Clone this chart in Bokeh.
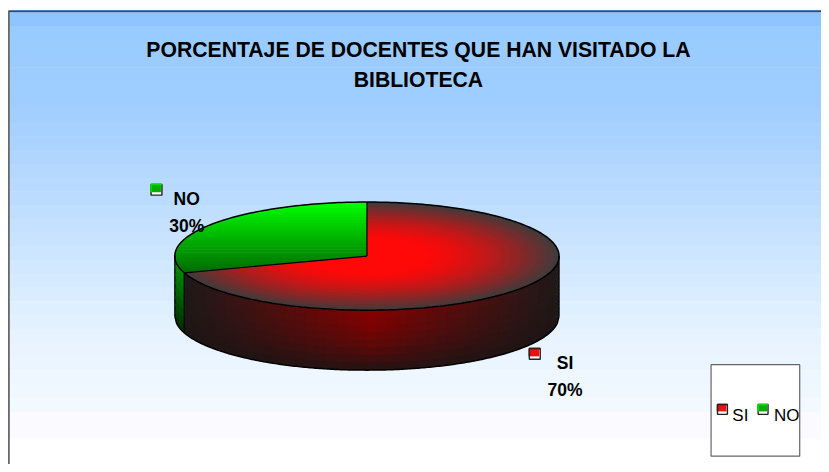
import numpy as np
from bokeh.plotting import figure
from bokeh.embed import file_html
from bokeh.resources import INLINE
from bokeh.core.properties import value

TITLE_LINES = ["PORCENTAJE DE DOCENTES QUE HAN VISITADO LA", "BIBLIOTECA"]
CATEGORIES = ["SI", "NO"]
VALUES = [70, 30]

# layout
W, H = 821, 464
CX, CY, RX, RY, DEPTH = 370.0, 260.0, 194.0, 55.0, 61.0
FONT = value("Liberation Sans")

p = figure(width=W, height=H, x_range=(0, 829), y_range=(472, 0),
           output_backend="svg", toolbar_location=None, min_border=0,
           outline_line_color=None, background_fill_color="white",
           border_fill_color="white")
p.axis.visible = False
p.grid.visible = False


def hexc(rgb):
    r, g, b = [int(round(max(0, min(255, c)))) for c in rgb]
    return f"#{r:02x}{g:02x}{b:02x}"


def mix(a, b, t):
    return [a[i] + (b[i] - a[i]) * t for i in range(3)]


# background bands
bg_stops = [(12, (144, 196, 255)), (27, (153, 204, 255)), (100, (160, 205, 255)),
            (180, (184, 218, 255)), (260, (208, 231, 255)), (330, (230, 243, 255)),
            (408, (243, 249, 255)), (409, (250, 250, 255)), (446, (252, 250, 255))]
ys = np.arange(12, 446, 14)
ys = np.append(ys, 446)
sy = [s[0] for s in bg_stops]
for y0, y1 in zip(ys[:-1], ys[1:]):
    c = [np.interp(y0, sy, [s[1][i] for s in bg_stops]) for i in range(3)]
    p.quad(left=9, right=829, top=y0, bottom=y1 + 0.5, fill_color=hexc(c), line_color=None)
p.segment(x0=[8], y0=[11], x1=[829], y1=[11], line_color="#1f4f8c", line_width=2)
p.segment(x0=[8.5], y0=[11], x1=[8.5], y1=[472], line_color="#555555", line_width=1.6)

# sector geometry, angle measured counter-clockwise on screen from 12 o'clock
total = sum(VALUES)
no_ang = 2 * np.pi * VALUES[CATEGORIES.index("NO")] / total


def ell(a, s=1.0):
    return CX - RX * s * np.sin(a), CY - RY * s * np.cos(a)


def rim(x):
    u = np.clip((x - CX) / RX, -1, 1)
    return CY + RY * np.sqrt(1 - u * u)


# side wall of the red slice, painted strip by strip with a small overlap
xs_edge = np.linspace(ell(no_ang)[0], CX + RX, 38)
rows = np.linspace(0, 1, 9)
for x0, x1 in zip(xs_edge[:-1], xs_edge[1:]):
    u = abs((x0 + x1) / 2 - CX - 5) / RX
    base = mix((135, 0, 0), (28, 26, 26), min(1, u ** 0.9))
    for f0, f1 in zip(rows[:-1], rows[1:]):
        fm = (f0 + f1) / 2
        col = mix(base, (30, 20, 20), fm ** 1.6 * 0.95)
        xx = np.linspace(x0, min(x1 + 1, CX + RX), 4)
        top = rim(xx) + f0 * DEPTH
        bot = rim(xx) + min(1, f1 + 0.02) * DEPTH
        p.patch(list(xx) + list(xx[::-1]), list(top) + list(bot[::-1]),
                fill_color=hexc(col), line_color=None)

# side wall of the green slice
gx = np.linspace(CX - RX, ell(no_ang)[0], 8)
grow = np.linspace(0, 1, 9)
for f0, f1 in zip(grow[:-1], grow[1:]):
    col = mix((0, 140, 0), (0, 45, 0), (f0 + f1) / 2)
    top = rim(gx) + f0 * DEPTH
    bot = rim(gx) + min(1, f1 + 0.02) * DEPTH
    p.patch(list(gx) + list(gx[::-1]), list(top) + list(bot[::-1]),
            fill_color=hexc(col), line_color=None)

# red top: concentric sectors
red_ang = np.linspace(no_ang, 2 * np.pi, 160)
for s in np.linspace(1, 0.03, 36):
    t = min(1, max(0, (s - 0.3) / 0.7))
    col = mix((255, 8, 8), (66, 58, 58), t ** 1.5)
    ex, ey = ell(red_ang, s)
    p.patch([CX] + list(ex), [CY] + list(ey), fill_color=hexc(col), line_color=None)


# green top: horizontal bands clipped from the sector
def clip(px, py, ylim, keep_below):
    ox, oy = [], []
    n = len(px)
    for i in range(n):
        x0, y0, x1, y1 = px[i], py[i], px[(i + 1) % n], py[(i + 1) % n]
        in0 = (y0 >= ylim) if keep_below else (y0 <= ylim)
        in1 = (y1 >= ylim) if keep_below else (y1 <= ylim)
        if in0:
            ox.append(x0); oy.append(y0)
        if in0 != in1:
            t = (ylim - y0) / (y1 - y0)
            ox.append(x0 + t * (x1 - x0)); oy.append(ylim)
    return ox, oy


g_ang = np.linspace(0, no_ang, 90)
gex, gey = ell(g_ang)
sx, sy_ = [CX] + list(gex), [CY] + list(gey)
bands = np.linspace(CY - RY, ell(no_ang)[1], 25)
for y0, y1 in zip(bands[:-1], bands[1:]):
    t = ((y0 + y1) / 2 - bands[0]) / (bands[-1] - bands[0])
    col = mix((0, 255, 0), (0, 105, 0), t)
    ax, ay = clip(sx, sy_, y0, True)
    ax, ay = clip(ax, ay, y1 + 0.6, False)
    if len(ax) > 2:
        p.patch(ax, ay, fill_color=hexc(col), line_color=None)

# outlines
full = np.linspace(0, 2 * np.pi, 300)
ex, ey = ell(full)
p.line(ex, ey, line_color="black", line_width=1.5)
lower = np.linspace(CX - RX, CX + RX, 200)
p.line(lower, rim(lower) + DEPTH, line_color="black", line_width=1.5)
p.segment(x0=[CX - RX, CX + RX], y0=[CY, CY], x1=[CX - RX, CX + RX], y1=[CY + DEPTH, CY + DEPTH],
          line_color="black", line_width=1.2)
ax_, ay_ = ell(no_ang)
p.segment(x0=[CX, CX, ax_], y0=[CY, CY, ay_], x1=[CX, ax_, ax_], y1=[CY - RY, ay_, ay_ + DEPTH],
          line_color="black", line_width=1.2)


def key(x, y, size, fill, edge):
    """small shaded legend key, top-left corner at x,y"""
    p.quad(left=x, right=x + size, top=y, bottom=y + size,
           fill_color="white", line_color="#222222", line_width=1.4)
    p.quad(left=x, right=x + size - 1, top=y, bottom=y + size - 3,
           fill_color=fill, line_color=None)
    p.segment(x0=[x, x], y0=[y, y], x1=[x + size, x], y1=[y, y + size - 3],
              line_color=edge, line_width=1.6)


KEY = {"SI": ("#e81212", "#3a1a1a"), "NO": ("#00b000", "#00e000")}

# title
p.text(x=[422, 422], y=[50, 80], text=TITLE_LINES, text_align="center", text_baseline="alphabetic",
       text_font=FONT, text_font_style="bold", text_font_size="21.2px", text_color="black")

# data labels
LABEL_POS = {"NO": ((152, 187), (188, 202), (188, 229)), "SI": ((534, 354), (570, 369), (570, 396))}
for cat, val in zip(CATEGORIES, VALUES):
    (kx, ky), (nx, ny), (vx, vy) = LABEL_POS[cat]
    key(kx, ky, 11, *KEY[cat])
    p.text(x=[nx, vx], y=[ny, vy], text=[cat, f"{val}%"], text_align="center",
           text_baseline="alphabetic", text_font=FONT, text_font_style="bold",
           text_font_size="17.5px", text_color="black")

# legend box
p.quad(left=717.5, right=807, top=370.5, bottom=463.5, fill_color="white", line_color="#666666", line_width=1.2)
LEG_POS = {"SI": (724, 739), "NO": (765, 781)}
for cat in CATEGORIES:
    kx, tx = LEG_POS[cat]
    key(kx, 411, 10, *KEY[cat])
    p.text(x=[tx], y=[422], text=[cat], text_align="left", text_baseline="alphabetic",
           text_font=FONT, text_font_size="17px", text_color="black")

open("out.html", "w").write(file_html(p, INLINE))
